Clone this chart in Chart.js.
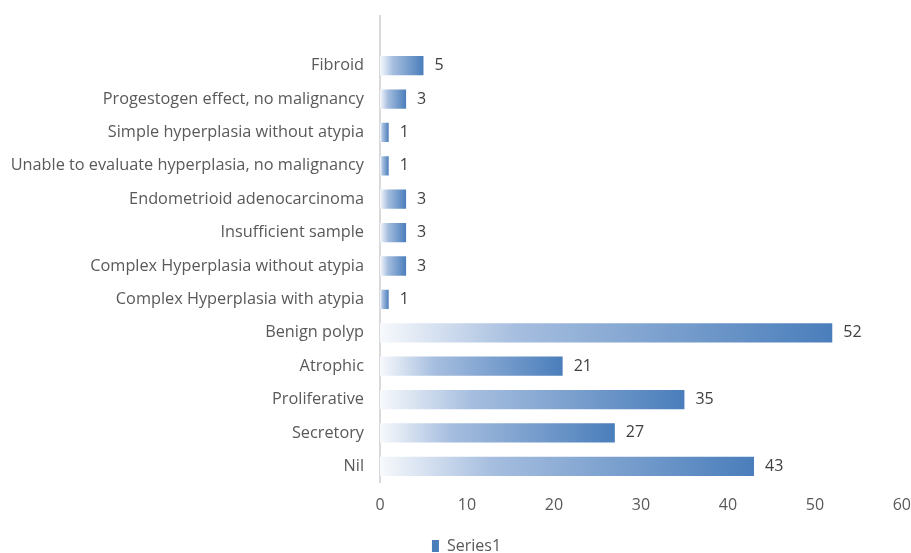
<!DOCTYPE html>
<html>
<head>
<meta charset="utf-8">
<script src="https://cdn.jsdelivr.net/npm/chart.js@4"></script>
<style>
  html, body { margin: 0; padding: 0; background: #ffffff; overflow: hidden; }
  #wrap { position: relative; width: 911px; height: 564px; }
</style>
</head>
<body>
<div id="wrap"><canvas id="c"></canvas></div>
<script>
const categories = [
  "Fibroid",
  "Progestogen effect, no malignancy",
  "Simple hyperplasia without atypia",
  "Unable to evaluate hyperplasia, no malignancy",
  "Endometrioid adenocarcinoma",
  "Insufficient sample",
  "Complex Hyperplasia without atypia",
  "Complex Hyperplasia with atypia",
  "Benign polyp",
  "Atrophic",
  "Proliferative",
  "Secretory",
  "Nil"
];
const series1 = [5, 3, 1, 1, 3, 3, 3, 1, 52, 21, 35, 27, 43];
const seriesName = "Series1";
const xTicks = [0, 10, 20, 30, 40, 50, 60];

const FONT = "'Open Sans', Lato, sans-serif";
const END_BLUE = '#4a7ebb';

function barGradient(ctx) {
  const chart = ctx.chart;
  const xs = chart.scales.x;
  if (!chart.chartArea || !xs || ctx.raw === undefined) return END_BLUE;
  const x0 = xs.getPixelForValue(0);
  const x1 = xs.getPixelForValue(ctx.raw);
  if (!isFinite(x0) || !isFinite(x1) || x1 - x0 < 1) return END_BLUE;
  const g = chart.ctx.createLinearGradient(x0, 0, x1, 0);
  g.addColorStop(0, '#f7f9fc');
  g.addColorStop(0.3, '#a6bedf');
  g.addColorStop(1, END_BLUE);
  return g;
}

const axisLine = {
  id: 'axisLine',
  beforeDatasetsDraw(chart) {
    const c = chart.ctx;
    const x = chart.scales.x.getPixelForValue(0);
    c.save();
    c.strokeStyle = '#d9d9d9';
    c.lineWidth = 2;
    c.beginPath();
    c.moveTo(x, 15);
    c.lineTo(x, chart.chartArea.bottom);
    c.stroke();
    c.restore();
  }
};

const shiftLegend = {
  id: 'shiftLegend',
  afterLayout(chart) {
    if (chart.legend) { chart.legend.left += 22; }
  }
};

const valueLabels = {
  id: 'valueLabels',
  afterDatasetsDraw(chart) {
    const c = chart.ctx;
    const meta = chart.getDatasetMeta(0);
    c.save();
    c.font = '16px ' + FONT;
    c.fillStyle = '#404040';
    c.textAlign = 'left';
    c.textBaseline = 'middle';
    meta.data.forEach((bar, i) => {
      c.fillText(String(series1[i]), bar.x + 11, bar.y);
    });
    c.restore();
  }
};

new Chart(document.getElementById('c'), {
  type: 'bar',
  data: {
    labels: categories,
    datasets: [{
      label: seriesName,
      data: series1,
      backgroundColor: barGradient,
      borderWidth: 0,
      barPercentage: 0.75,
      categoryPercentage: 0.77
    }]
  },
  options: {
    indexAxis: 'y',
    responsive: true,
    maintainAspectRatio: false,
    animation: false,
    layout: { padding: { top: 49, right: 0, left: 0, bottom: 0 } },
    scales: {
      x: {
        min: 0, max: 60,
        afterBuildTicks: s => { s.ticks = xTicks.map(v => ({ value: v })); },
        afterFit: s => { s.height = 55; },
        grid: { display: false, drawTicks: true, tickLength: 13 },
        border: { display: false },
        ticks: { color: '#595959', font: { family: FONT, size: 16 }, padding: 0, maxRotation: 0 }
      },
      y: {
        grid: { display: false, drawTicks: false },
        border: { display: false },
        afterFit: s => { s.width = 380; },
        ticks: { color: '#595959', font: { family: FONT, size: 16.3 }, padding: 16, autoSkip: false }
      }
    },
    plugins: {
      legend: {
        display: true,
        position: 'bottom',
        labels: {
          color: '#595959',
          font: { family: FONT, size: 16 },
          boxWidth: 7,
          boxHeight: 12,
          padding: 0
        }
      },
      tooltip: { enabled: false }
    }
  },
  plugins: [axisLine, shiftLegend, valueLabels]
});
</script>
</body>
</html>
